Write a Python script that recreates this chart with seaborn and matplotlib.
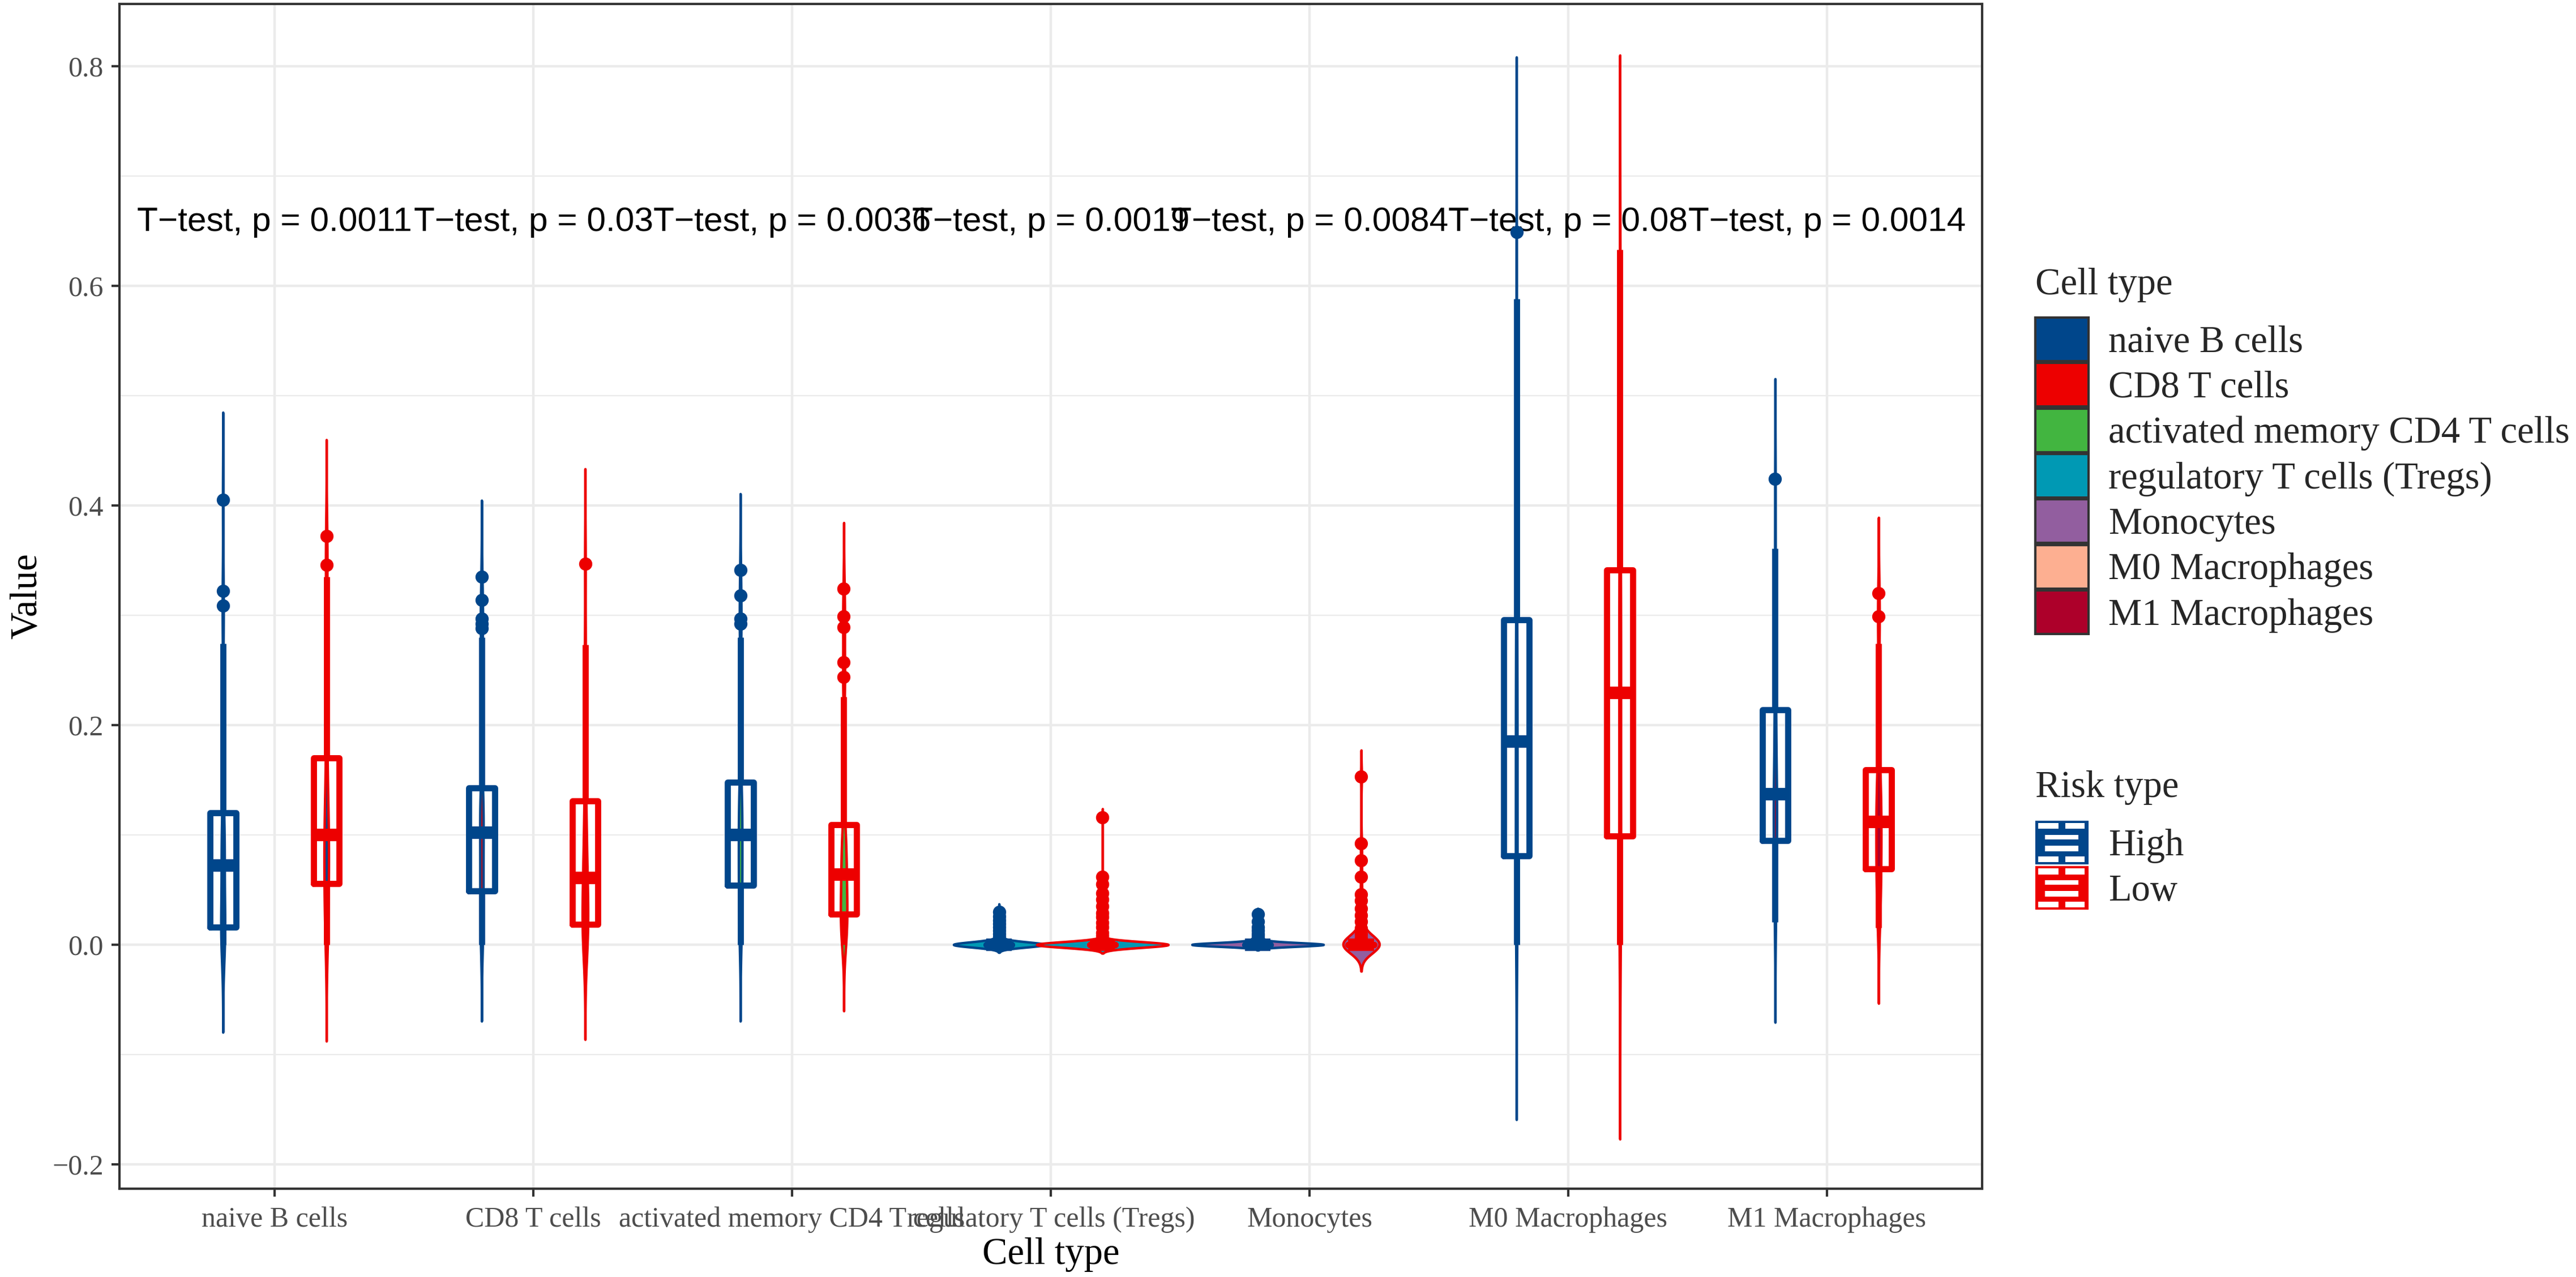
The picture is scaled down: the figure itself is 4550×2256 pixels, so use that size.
import numpy as np
import pandas as pd
import seaborn as sns
import matplotlib
matplotlib.use("Agg")
import matplotlib.pyplot as plt
from matplotlib.patches import Patch, Rectangle
from matplotlib.legend_handler import HandlerBase
from matplotlib.ticker import MultipleLocator

# ---------------- data ----------------
categories = ["naive B cells", "CD8 T cells", "activated memory CD4 T cells",
              "regulatory T cells (Tregs)", "Monocytes", "M0 Macrophages", "M1 Macrophages"]
risk_levels = ["High", "Low"]
p_labels = ["0.0011", "0.03", "0.0036", "0.0019", "0.0084", "0.08", "0.0014"]
label_y = 0.65

cell_colors = ["#00468B", "#ED0000", "#42B540", "#0099B4", "#925E9F", "#FDAF91", "#AD002A"]
risk_colors = ["#00468B", "#ED0000"]

naive_b_high = [0.0, 0.002, 0.005, 0.008, 0.012, 0.016, 0.025, 0.038, 0.050, 0.062, 0.072,
                0.080, 0.090, 0.100, 0.110, 0.120, 0.165, 0.274, 0.309, 0.322, 0.405]
naive_b_low = [0.0, 0.012, 0.025, 0.035, 0.045, 0.0555, 0.065, 0.075, 0.083, 0.092, 0.100,
               0.108, 0.118, 0.130, 0.150, 0.170, 0.200, 0.250, 0.335, 0.346, 0.372]
cd8_high = [0.0, 0.008, 0.016, 0.025, 0.033, 0.041, 0.049, 0.058, 0.066, 0.074, 0.083, 0.092,
            0.102, 0.108, 0.115, 0.122, 0.129, 0.136, 0.143, 0.280, 0.288, 0.292, 0.297, 0.314, 0.335]
cd8_low = [0.0, 0.003, 0.007, 0.011, 0.015, 0.0185, 0.027, 0.036, 0.044, 0.053, 0.061,
           0.070, 0.082, 0.095, 0.112, 0.131, 0.160, 0.195, 0.230, 0.273, 0.347]
cd4_high = [0.0, 0.010, 0.020, 0.030, 0.040, 0.047, 0.054, 0.062, 0.070, 0.078, 0.086, 0.093,
            0.100, 0.108, 0.116, 0.124, 0.132, 0.140, 0.148, 0.210, 0.280, 0.292, 0.297, 0.318, 0.341]
cd4_low = [0.0, 0.005, 0.010, 0.015, 0.020, 0.024, 0.0276, 0.034, 0.040, 0.046, 0.052, 0.058,
           0.064, 0.071, 0.078, 0.085, 0.092, 0.100, 0.109, 0.226, 0.244, 0.257, 0.289, 0.299, 0.324]
tregs_high = [0.002, 0.005, 0.007, 0.010, 0.013, 0.016, 0.019, 0.022, 0.026, 0.030]
tregs_high_zeros = 31
tregs_low = [0.004, 0.008, 0.011, 0.016, 0.020, 0.025, 0.029, 0.035, 0.041, 0.047, 0.055, 0.062, 0.116]
tregs_low_zeros = 180
mono_high = [0.001, 0.002, 0.003, 0.004, 0.005, 0.006, 0.008, 0.010, 0.013, 0.016, 0.021, 0.028]
mono_high_zeros = 38
mono_low = [0.003, 0.006, 0.010, 0.015, 0.021, 0.027, 0.033, 0.040, 0.046, 0.062, 0.077, 0.092, 0.153]
mono_low_zeros = 40
m0_high = [0.0, 0.015, 0.030, 0.045, 0.058, 0.070, 0.081, 0.100, 0.120, 0.140, 0.158, 0.172,
           0.185, 0.200, 0.220, 0.240, 0.258, 0.278, 0.296, 0.330, 0.380, 0.440, 0.510, 0.588, 0.649]
m0_low = [0.0, 0.018, 0.036, 0.055, 0.072, 0.086, 0.099, 0.122, 0.145, 0.168, 0.190, 0.210,
          0.2295, 0.250, 0.270, 0.290, 0.308, 0.325, 0.341, 0.380, 0.420, 0.470, 0.520, 0.580, 0.633]
m1_high = [0.0206, 0.040, 0.058, 0.072, 0.085, 0.095, 0.105, 0.114, 0.122, 0.130, 0.137,
           0.148, 0.162, 0.178, 0.196, 0.214, 0.240, 0.270, 0.310, 0.361, 0.424]
m1_low = [0.0156, 0.030, 0.042, 0.052, 0.061, 0.069, 0.078, 0.088, 0.096, 0.104, 0.112,
          0.120, 0.128, 0.137, 0.148, 0.159, 0.180, 0.215, 0.274, 0.299, 0.320]

groups = [
    (categories[0], "High", naive_b_high, 0), (categories[0], "Low", naive_b_low, 0),
    (categories[1], "High", cd8_high, 0), (categories[1], "Low", cd8_low, 0),
    (categories[2], "High", cd4_high, 0), (categories[2], "Low", cd4_low, 0),
    (categories[3], "High", tregs_high, tregs_high_zeros), (categories[3], "Low", tregs_low, tregs_low_zeros),
    (categories[4], "High", mono_high, mono_high_zeros), (categories[4], "Low", mono_low, mono_low_zeros),
    (categories[5], "High", m0_high, 0), (categories[5], "Low", m0_low, 0),
    (categories[6], "High", m1_high, 0), (categories[6], "Low", m1_low, 0),
]
rows = []
for cat, risk, vals, nzero in groups:
    for v in list(vals) + [0.0] * nzero:
        rows.append({"Cell type": cat, "Risk type": risk, "Value": v})
df = pd.DataFrame(rows)


def nrd0_factor(kde):
    """R's bw.nrd0 expressed as a gaussian_kde factor."""
    x = np.asarray(kde.dataset).ravel()
    sd = np.std(x, ddof=1)
    q25, q75 = np.percentile(x, [25, 75])
    lo = min(sd, (q75 - q25) / 1.34)
    if lo <= 0:
        lo = sd
    return 0.9 * lo * len(x) ** -0.2 / sd


# ---------------- style ----------------
sns.set_style("ticks")
plt.rcParams["font.family"] = ["Liberation Serif", "DejaVu Serif"]
plt.rcParams["axes.unicode_minus"] = True

W, H = 4550, 2256
fig = plt.figure(figsize=(W / 300, H / 300), dpi=300)
ax = fig.add_axes([211 / W, 1 - 2100 / H, (3501 - 211) / W, (2100 - 7) / H])

pal = dict(zip(risk_levels, risk_colors))

sns.violinplot(data=df, x="Cell type", y="Value", hue="Risk type", order=categories,
               hue_order=risk_levels, palette=pal, saturation=1, fill=True, inner=None,
               width=0.8, cut=3, gridsize=1200, bw_method=nrd0_factor, bw_adjust=0.7,
               density_norm="area", common_norm=False, linewidth=1.05, legend=False,
               ax=ax, zorder=2)

# violins: outline by risk, fill by cell type; widen to the reference's violin width
violin_stretch = 1.27
for coll in list(ax.collections):
    verts = np.array(coll.get_paths()[0].vertices, dtype=float)
    cx = (verts[:, 0].min() + verts[:, 0].max()) / 2
    idx = int(round(cx))
    verts[:, 0] = cx + (verts[:, 0] - cx) * violin_stretch
    coll.set_verts([verts])
    hue_col = coll.get_facecolor()[0]
    coll.set_edgecolor(hue_col)
    coll.set_facecolor(cell_colors[idx])
    coll.set_linewidth(1.05)

sns.boxplot(data=df, x="Cell type", y="Value", hue="Risk type", order=categories,
            hue_order=risk_levels, palette=pal, saturation=1, fill=False, width=0.8,
            gap=0.75, whis=1.5, linewidth=2.6, fliersize=5.6,
            flierprops={"marker": "o"}, medianprops={"linewidth": 5.3},
            showcaps=False, legend=False, ax=ax, zorder=3)

for patch in ax.patches:
    patch.set_fill(True)
    patch.set_facecolor("white")
    patch.set_linewidth(2.6)
    patch.set_joinstyle("miter")

for line in ax.lines:
    if line.get_marker() == "o":
        c = line.get_markeredgecolor()
        line.set_markerfacecolor(c)
        line.set_markeredgewidth(0)
        line.set_markersize(5.6)
    else:
        xd, yd = np.asarray(line.get_xdata()), np.asarray(line.get_ydata())
        if len(xd) == 2 and xd[0] != xd[1] and yd[0] == yd[1]:
            line.set_linewidth(5.3)
            line.set_solid_capstyle("butt")

for i, p in enumerate(p_labels):
    ax.text(i, label_y, f"T\u2212test, p = {p}", ha="center", va="baseline",
            fontsize=14.5, family=["Liberation Sans", "DejaVu Sans"], color="black", zorder=1.5)

# ---------------- axes ----------------
ax.set_xlim(-0.6, 6.6)
ax.set_ylim(-0.2222, 0.8567)
ax.yaxis.set_major_locator(MultipleLocator(0.2))
ax.yaxis.set_minor_locator(MultipleLocator(0.1))
ax.set_axisbelow(True)
ax.grid(which="major", axis="both", color="#EBEBEB", linewidth=1.07, zorder=0)
ax.grid(which="minor", axis="y", color="#EBEBEB", linewidth=0.55, zorder=0)
ax.tick_params(which="minor", length=0)
ax.tick_params(which="major", length=3.4, width=1.0, color="#333333",
               labelcolor="#4D4D4D", labelsize=12)
ax.tick_params(axis="x", pad=4.2)
ax.tick_params(axis="y", pad=3.4)
for s in ax.spines.values():
    s.set_visible(True)
    s.set_color("#333333")
    s.set_linewidth(1.0)

ax.set_xlabel("Cell type", fontsize=16, color="black")
ax.set_ylabel("Value", fontsize=16, color="black")
ax.xaxis.set_label_coords(0.5, -0.0411)
ax.yaxis.set_label_coords(-0.0406, 0.5)

# ---------------- legends ----------------
class RiskKey(Patch):
    pass


class BoxKeyHandler(HandlerBase):
    def create_artists(self, legend, orig_handle, xdescent, ydescent, width, height,
                       fontsize, trans):
        c = orig_handle.get_facecolor()
        x0, y0 = -xdescent, -ydescent
        arts = [Rectangle((x0, y0), width, height, facecolor=c, edgecolor="none",
                          transform=trans)]
        bars = [(0.053, 0.814, 0.379, 0.132), (0.561, 0.814, 0.369, 0.132),
                (0.186, 0.57, 0.621, 0.11), (0.186, 0.304, 0.621, 0.125),
                (0.053, 0.054, 0.379, 0.126), (0.561, 0.054, 0.369, 0.126)]
        for bx, by, bw, bh in bars:
            arts.append(Rectangle((x0 + bx * width, y0 + by * height), bw * width,
                                  bh * height, facecolor="white", edgecolor="none",
                                  transform=trans))
        return arts


leg_x = 3595 / W
leg_kw = dict(loc="upper left", bbox_transform=fig.transFigure, frameon=False,
              prop={"family": "Liberation Serif", "size": 16}, handlelength=1.41,
              handleheight=1.40, handletextpad=0.52, labelspacing=0.05,
              borderpad=0, borderaxespad=0)

cell_handles = [Patch(facecolor=c, edgecolor="#333333", linewidth=1.0) for c in cell_colors]
fig.legend(cell_handles, categories, bbox_to_anchor=(leg_x, 1 - 561 / H), **leg_kw)
risk_handles = [RiskKey(facecolor=c) for c in risk_colors]
fig.legend(risk_handles, risk_levels, bbox_to_anchor=(leg_x, 1 - 1450 / H),
           handler_map={RiskKey: BoxKeyHandler()}, **leg_kw)

fig.text(leg_x, 1 - 520 / H, "Cell type", fontsize=16, va="baseline", ha="left")
fig.text(leg_x, 1 - 1408 / H, "Risk type", fontsize=16, va="baseline", ha="left")

fig.savefig("out.png", dpi=300, facecolor="white")
